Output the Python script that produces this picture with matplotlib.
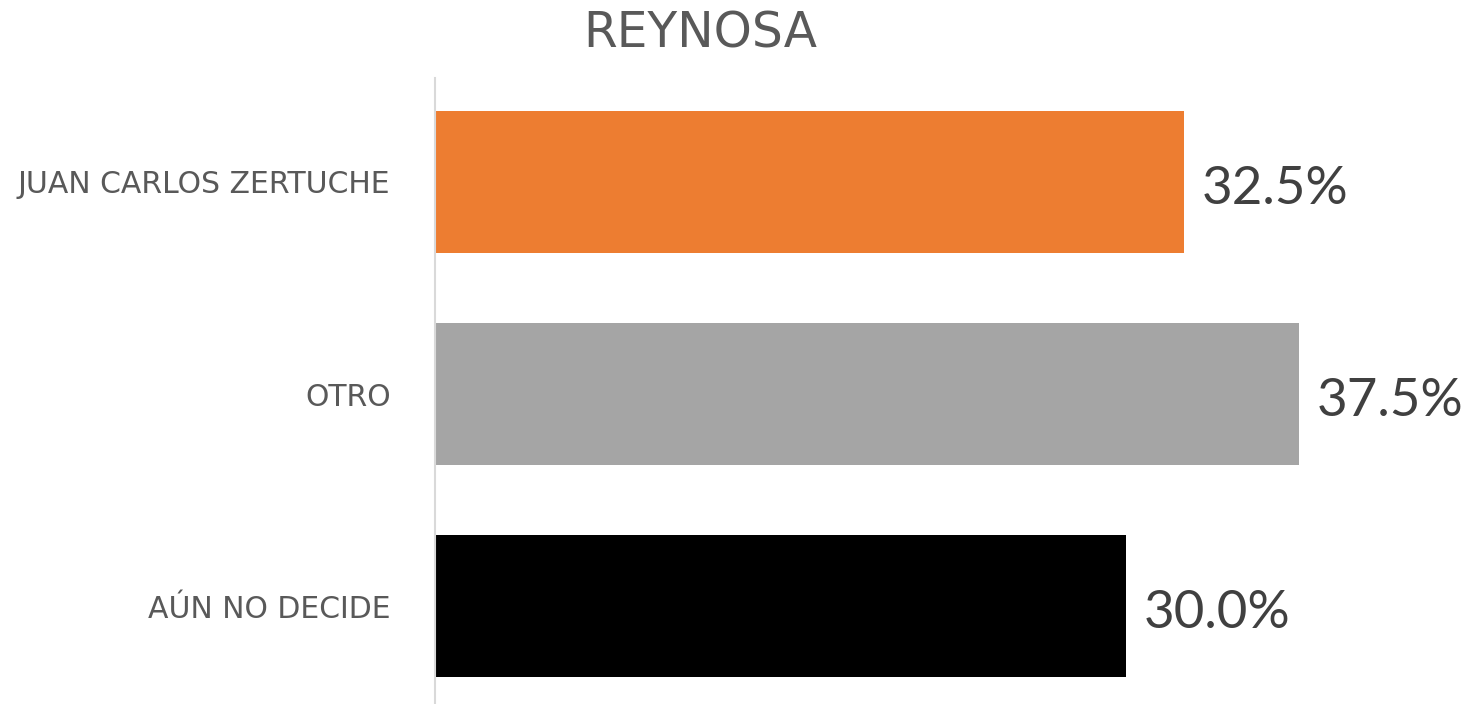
import matplotlib.pyplot as plt

categories = ["JUAN CARLOS ZERTUCHE", "OTRO", "AÚN NO DECIDE"]
values = [32.5, 37.5, 30.0]
colors = ["#ED7D31", "#A5A5A5", "#000000"]
title = "REYNOSA"

plt.rcParams["font.family"] = ["DejaVu Sans"]

fig = plt.figure(figsize=(14.63, 7.04), dpi=100)
# axes spans from the category axis line to the right edge
ax = fig.add_axes([435 / 1463, 0, 1 - 435 / 1463, (704 - 78) / 704])

ypos = list(range(len(categories)))
ax.barh(ypos, values, height=0.67, color=colors)

ax.set_xlim(0, 44.6)
ax.set_ylim(2.46, -0.49)

for y, v in zip(ypos, values):
    ax.text(v + 0.75, y + 0.035, f"{v:.1f}%", va="center", ha="left",
            fontsize=38, color="#404040", family=["Lato", "DejaVu Sans"])

ax.set_yticks(ypos)
ax.set_yticklabels(categories, fontsize=21.5, color="#595959")
ax.tick_params(axis="y", length=0, pad=32)
ax.set_xticks([])

for side in ["top", "right", "bottom"]:
    ax.spines[side].set_visible(False)
ax.spines["left"].set_color("#D9D9D9")
ax.spines["left"].set_linewidth(1.5)

fig.text(700 / 1463, 1 - 34 / 704, title, ha="center", va="center",
         fontsize=35, color="#595959")

fig.savefig("out.png", dpi=100)
